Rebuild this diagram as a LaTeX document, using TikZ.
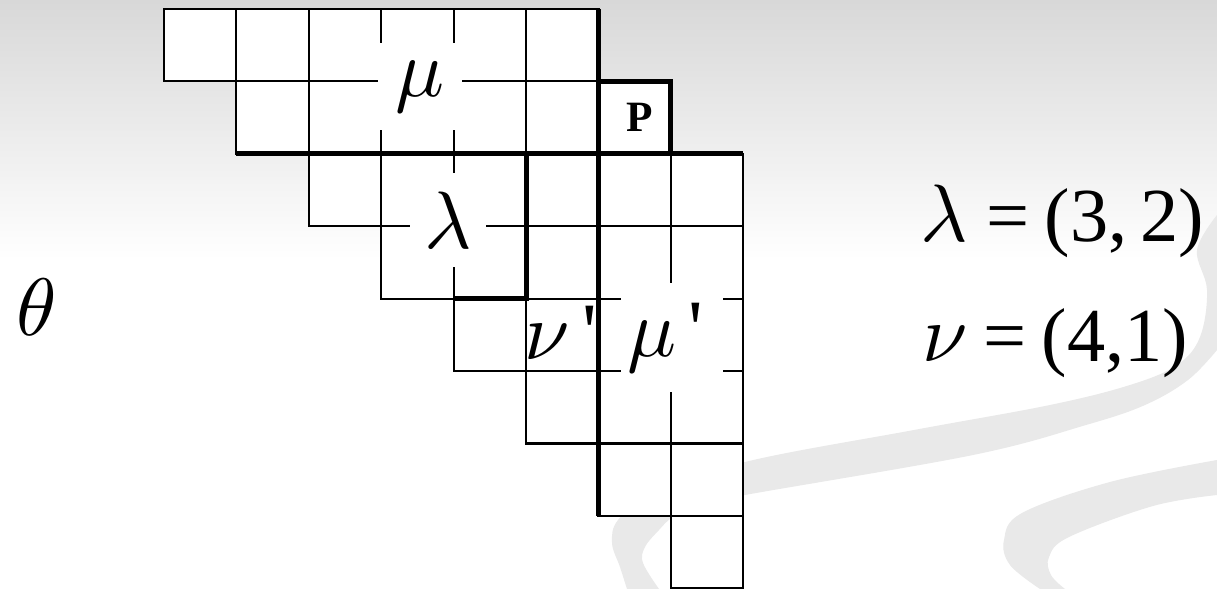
\documentclass[tikz,border=0pt]{standalone}
\usepackage{graphicx}
\usepackage{fontspec}
\setmainfont{Liberation Serif}
\newcommand\grk[1]{\scalebox{3.2}{\fontsize{10}{12}\selectfont$#1$}}
\definecolor{bgtop}{RGB}{216,216,216}
\definecolor{swoosh}{RGB}{233,233,233}
\begin{document}
\begin{tikzpicture}[x=0.0138122cm, y=-0.0138122cm,
  thinline/.style={line width=0.8pt},
  thickline/.style={line width=2pt},
  cellbox/.style={draw=black, line width=0.8pt, fill=white},
  greek/.style={font=\fontsize{32}{38}\selectfont, inner sep=0pt},
  knock/.style={fill=white},
  eqn/.style={font=\fontsize{30}{36}\selectfont, anchor=base west, inner sep=0pt}]

\useasboundingbox (0,0) rectangle (1217,589);
% background
\fill[white] (0,0) rectangle (1217,589);
\shade[top color=bgtop, bottom color=white] (0,0) rectangle (1217,260);

% swooshes
\fill[swoosh] plot[smooth, tension=0.6] coordinates {(627,589) (620,567) (612,543) (618,520) (650,495) (745,462) (914,430) (1050,405) (1130,385) (1177,365) (1200,337) (1207,290) (1197,250) (1217,215)}
  -- (1217,350)
  -- plot[smooth, tension=0.6] coordinates {(1217,350) (1188,380) (1145,405) (1086,425) (973,455) (745,495) (700,505) (673,517) (659,530) (645,547) (643,563) (659,589)}
  -- cycle;
\fill[swoosh] plot[smooth, tension=0.6] coordinates {(1217,460) (1110,482) (1022,513) (1004,540) (1010,565) (1040,589)}
  -- (1065,589)
  -- plot[smooth, tension=0.6] coordinates {(1065,589) (1051,575) (1049,557) (1069,537) (1153,506) (1217,495)}
  -- cycle;

% grid
\begin{scope}[shift={(164,9)}, x=1cm, y=-1cm]
  \foreach \r/\a/\b in {0/0/5, 1/1/6, 2/2/7, 3/3/7, 4/4/7, 5/5/7, 6/6/7, 7/7/7}
    \foreach \c in {\a,...,\b}
      \draw[cellbox] (\c,\r) rectangle ++(1,1);

  \node[greek, knock, minimum width=33pt, minimum height=34pt] (mu) at (3.529,1.070) {\grk{\mu}};
  \node[greek, knock, minimum width=30pt, minimum height=37pt] (lambda) at (3.923,2.914) {\grk{\lambda}};
  \node[greek, knock, minimum width=40pt, minimum height=43pt] (muprime) at (7.010,4.537) {\grk{\mu}\hspace{5pt}\textquotesingle\kern5pt};
  \node[greek] (nuprime) at (5.483,4.475) {\grk{\nu}\hspace{5pt}\textquotesingle};
  \node[font=\fontsize{17}{20}\selectfont\bfseries, inner sep=0pt] (P) at (6.575,1.492) {P};

  \draw[thickline] (1,2) -- (8,2);
  \draw[thickline] (6,0) -- (6,7);
  \draw[thickline] (6,1) -- (7,1) -- (7,2);
  \draw[thickline] (5,2) -- (5,4) -- (4,4);
\end{scope}

% side labels
\node[greek] (theta) at (37,307) {\grk{\theta}};
\node[eqn] (eqlambda) at (920,242) {\makebox[26pt][l]{\grk{\lambda}}=\hspace{6pt}(3,\,2)};
\node[eqn] (eqnu) at (922,362) {\makebox[24pt][l]{\grk{\nu}}=\hspace{6pt}(4,1)};
\end{tikzpicture}
\end{document}
